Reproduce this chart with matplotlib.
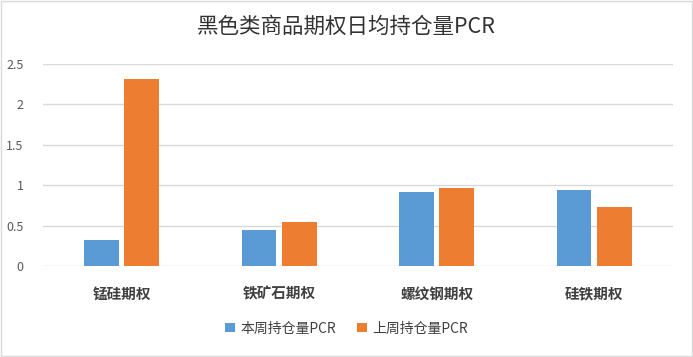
import matplotlib
matplotlib.use("Agg")
import matplotlib.pyplot as plt
import numpy as np

plt.rcParams['font.family'] = ['Noto Sans CJK SC', 'DejaVu Sans']

categories = ['锰硅期权', '铁矿石期权', '螺纹钢期权', '硅铁期权']
this_week = [0.32, 0.45, 0.92, 0.94]
last_week = [2.31, 0.54, 0.96, 0.73]
series_names = ['本周持仓量PCR', '上周持仓量PCR']
yticks = [0, 0.5, 1, 1.5, 2, 2.5]
ytick_labels = ['0', '0.5', '1', '1.5', '2', '2.5']

blue = '#5B9BD5'
orange = '#ED7D31'

fig = plt.figure(figsize=(6.93, 3.57), dpi=100)
ax = fig.add_axes([0.062, 0.255, 0.909, 0.566])

x = np.arange(len(categories))
w = 0.22
gap = 0.035
ax.bar(x - (w + gap) / 2, this_week, w, color=blue, label=series_names[0], zorder=3)
ax.bar(x + (w + gap) / 2, last_week, w, color=orange, label=series_names[1], zorder=3)

ax.set_xlim(-0.5, len(categories) - 0.5)
ax.set_ylim(0, 2.5)
ax.set_yticks(yticks)
ax.set_yticklabels(ytick_labels, fontsize=9, color='#595959')
ax.set_xticks(x)
ax.set_xticklabels(categories, fontsize=10.5, color='#404040', fontweight='bold')
ax.tick_params(axis='both', length=0)
ax.tick_params(axis='x', pad=14)
ax.tick_params(axis='y', pad=14)
ax.grid(axis='y', color='#D9D9D9', linewidth=1, zorder=0)
ax.set_axisbelow(True)
for s in ax.spines.values():
    s.set_visible(False)

fig.suptitle('黑色类商品期权日均持仓量PCR', y=0.955, fontsize=15.5, color='#333333')

leg = fig.legend(loc='center', bbox_to_anchor=(0.5, 0.08), ncol=2, frameon=False,
                 fontsize=10, handlelength=0.7, handleheight=0.7, columnspacing=1.5,
                 handletextpad=0.4)
for t in leg.get_texts():
    t.set_color('#404040')

border = plt.Rectangle((0.002, 0.003), 0.996, 0.994, transform=fig.transFigure,
                       fill=False, edgecolor='#D9D9D9', linewidth=1)
fig.patches.append(border)

fig.savefig('out.png', dpi=100)
